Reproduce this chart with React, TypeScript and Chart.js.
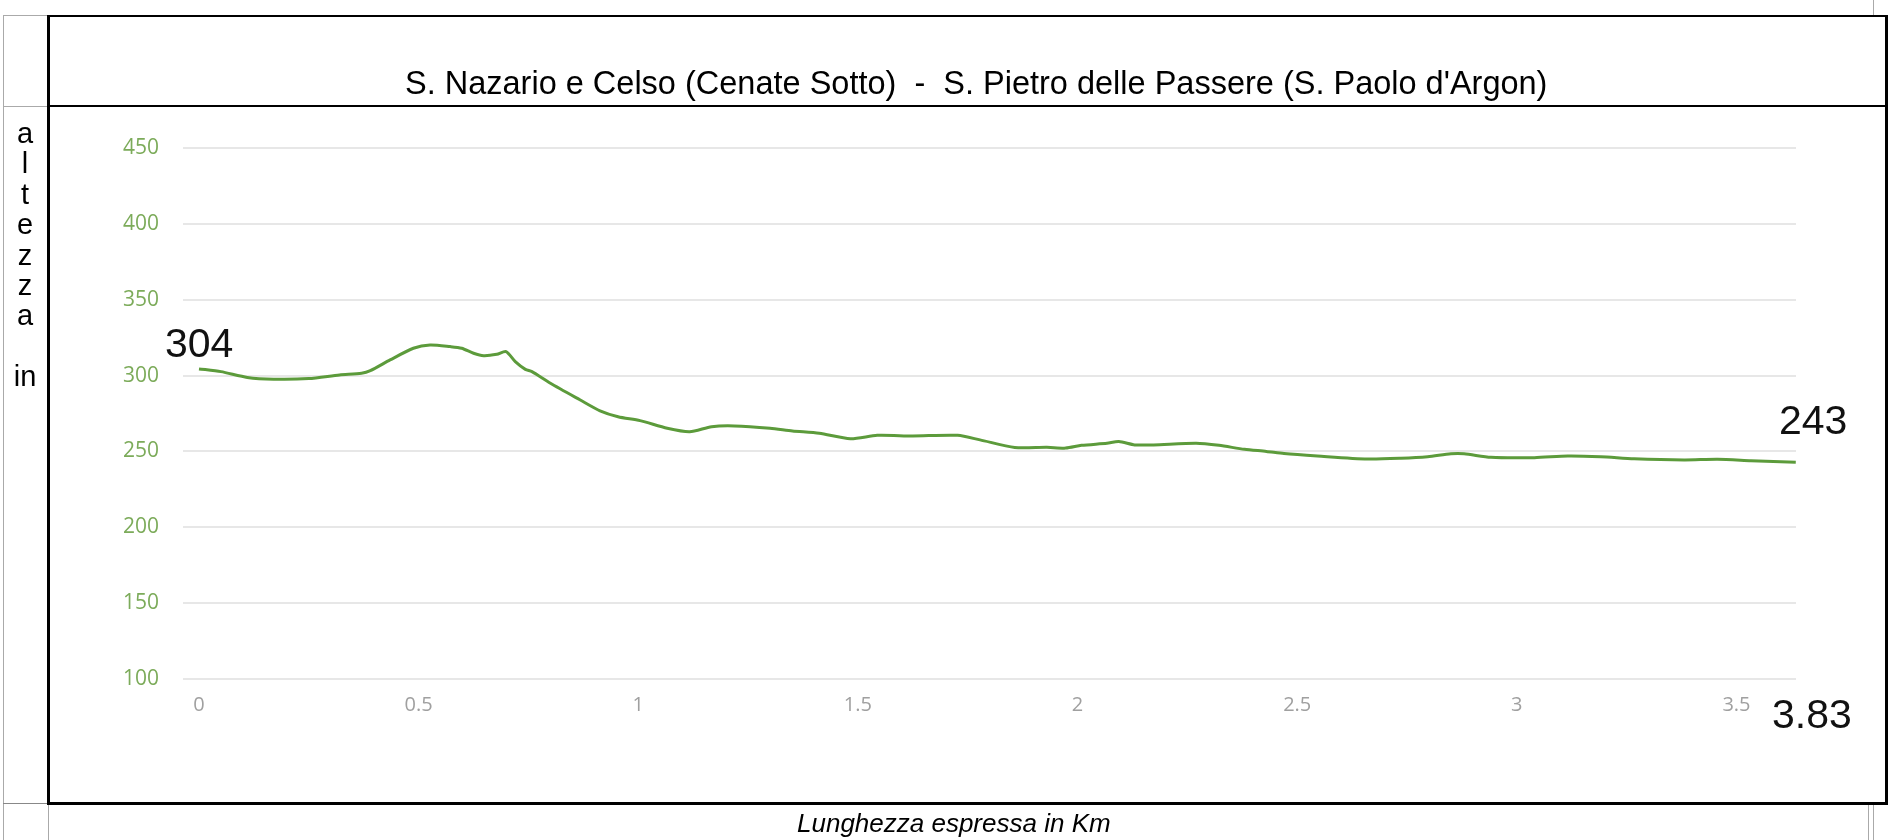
import React, { useEffect, useRef } from 'react';
import { Chart, registerables } from 'chart.js';

Chart.register(...registerables);

// Distance along the route (km) and altitude (m)
const KM = [
  0, 0.05, 0.11, 0.17, 0.25, 0.32, 0.37, 0.39, 0.435, 0.488, 0.526, 0.572, 0.598,
  0.625, 0.648, 0.678, 0.699, 0.72, 0.743, 0.758, 0.8, 0.868, 0.913, 0.954, 1.004,
  1.066, 1.117, 1.167, 1.219, 1.3, 1.351, 1.412, 1.483, 1.544, 1.625, 1.727, 1.778,
  1.857, 1.93, 1.973, 2.009, 2.067, 2.094, 2.13, 2.173, 2.27, 2.322, 2.38, 2.43,
  2.47, 2.546, 2.66, 2.736, 2.797, 2.85, 2.88, 2.941, 3.04, 3.116, 3.191, 3.267,
  3.381, 3.457, 3.533, 3.635,
];
const ALT = [
  304.4, 302.6, 298.8, 297.6, 298, 300.4, 301.5, 303.2, 310.3, 318, 320.2, 319.1, 318,
  314.7, 313.1, 314, 315.8, 309.2, 304.1, 302.6, 294.9, 283.9, 276.8, 272.9, 270.3,
  265.3, 263, 266.3, 266.8, 265.3, 263.5, 262, 258.4, 260.6, 260.2, 260.6, 257.6,
  252.6, 252.7, 252.2, 254, 255.4, 256.5, 254.3, 254.3, 255.4, 254, 251.4, 250,
  248.6, 247, 245, 245.5, 246.5, 248.4, 248.4, 246.1, 245.9, 247, 246.5, 245.2,
  244.4, 244.8, 243.9, 242.8,
];
const X_TICKS = [0, 0.5, 1, 1.5, 2, 2.5, 3, 3.5];
const Y_TICKS = [100, 150, 200, 250, 300, 350, 400, 450];

const TITLE = "S. Nazario e Celso (Cenate Sotto)  -  S. Pietro delle Passere (S. Paolo d'Argon)";
const Y_TITLE_LINES = ['a', 'l', 't', 'e', 'z', 'z', 'a', '', 'in'];
const X_TITLE = 'Lunghezza espressa in Km';
const START_LABEL = '304';
const END_LABEL = '243';
const LENGTH_LABEL = '3.83';

const ARIAL = '"Liberation Sans", Arial, sans-serif';
const TICK_FONT = '"Open Sans", sans-serif';

export default function App() {
  const ref = useRef<HTMLCanvasElement>(null);

  useEffect(() => {
    const canvas = ref.current;
    if (!canvas) return;
    const chart = new Chart(canvas, {
      type: 'line',
      data: {
        datasets: [
          {
            data: KM.map((x, i) => ({ x, y: ALT[i] })),
            borderColor: '#5c9b3b',
            borderWidth: 3,
            pointRadius: 0,
            tension: 0.25,
            fill: false,
          },
        ],
      },
      options: {
        responsive: false,
        devicePixelRatio: 1,
        animation: false,
        layout: { padding: { left: 0, top: 148, right: 100, bottom: 101 } },
        plugins: { legend: { display: false }, tooltip: { enabled: false }, title: { display: false } },
        scales: {
          x: {
            type: 'linear',
            min: -0.0364,
            max: 3.6355,
            grid: { display: false, drawTicks: false },
            border: { display: false },
            afterBuildTicks: (scale: any) => {
              scale.ticks = X_TICKS.map((v) => ({ value: v }));
            },
            afterFit: (scale: any) => {
              scale.height = 60;
            },
            ticks: {
              color: '#a0a0a0',
              padding: 14,
              font: { family: TICK_FONT, size: 20 },
              callback: (v: any) => String(v),
              maxRotation: 0,
              autoSkip: false,
            },
          },
          y: {
            type: 'linear',
            min: 100,
            max: 450,
            grid: { color: '#e7e7e7', lineWidth: 2, drawTicks: false },
            border: { display: false },
            afterBuildTicks: (scale: any) => {
              scale.ticks = Y_TICKS.map((v) => ({ value: v }));
            },
            afterFit: (scale: any) => {
              scale.width = 183;
            },
            ticks: {
              color: '#7cab5a',
              padding: 24,
              font: { family: TICK_FONT, size: 21 },
              callback: (v: any) => String(v),
            },
          },
        },
      },
    });
    return () => chart.destroy();
  }, []);

  const gray = '#aaaaaa';

  return (
    <div
      style={{
        position: 'fixed',
        left: 0,
        top: 0,
        width: 1896,
        height: 840,
        background: '#ffffff',
        overflow: 'hidden',
        fontFamily: ARIAL,
      }}
    >
      {/* thin grey table lines */}
      <div style={{ position: 'absolute', left: 3, top: 15, width: 1, height: 825, background: gray }} />
      <div style={{ position: 'absolute', left: 3, top: 15, width: 46, height: 1, background: gray }} />
      <div style={{ position: 'absolute', left: 3, top: 106, width: 46, height: 1, background: gray }} />
      <div style={{ position: 'absolute', left: 3, top: 803, width: 46, height: 1, background: '#888' }} />
      <div style={{ position: 'absolute', left: 48, top: 803, width: 1, height: 37, background: gray }} />
      <div style={{ position: 'absolute', left: 1873, top: 0, width: 1, height: 16, background: gray }} />
      <div style={{ position: 'absolute', left: 1868, top: 803, width: 1, height: 37, background: gray }} />
      <div style={{ position: 'absolute', left: 1873, top: 803, width: 1, height: 37, background: gray }} />

      {/* black framed box */}
      <div
        style={{
          position: 'absolute',
          left: 47,
          top: 15,
          width: 1888 - 47 - 6,
          height: 805 - 15 - 5,
          borderLeft: '3px solid #000',
          borderRight: '3px solid #000',
          borderTop: '2px solid #000',
          borderBottom: '3px solid #000',
        }}
      />
      <div style={{ position: 'absolute', left: 47, top: 105, width: 1841, height: 2, background: '#000' }} />

      <canvas
        ref={ref}
        width={1896}
        height={840}
        style={{ position: 'absolute', left: 0, top: 0, width: 1896, height: 840 }}
      />

      {/* title */}
      <div
        style={{
          position: 'absolute',
          left: 405,
          top: 67,
          fontSize: 32.5,
          lineHeight: '32.5px',
          whiteSpace: 'pre',
          color: '#000',
        }}
      >
        {TITLE}
      </div>

      {/* vertical y title */}
      <div
        style={{
          position: 'absolute',
          left: 3,
          top: 118,
          width: 44,
          textAlign: 'center',
          fontSize: 29,
          lineHeight: '30.4px',
          color: '#000',
        }}
      >
        {Y_TITLE_LINES.map((t, i) => (
          <div key={i} style={{ height: 30.4 }}>
            {t}
          </div>
        ))}
      </div>

      {/* annotations */}
      <div style={{ position: 'absolute', left: 165, top: 323, fontSize: 41, lineHeight: '41px', color: '#111' }}>
        {START_LABEL}
      </div>
      <div style={{ position: 'absolute', left: 1779, top: 400, fontSize: 41, lineHeight: '41px', color: '#111' }}>
        {END_LABEL}
      </div>
      <div style={{ position: 'absolute', left: 1772, top: 694, fontSize: 41, lineHeight: '41px', color: '#111' }}>
        {LENGTH_LABEL}
      </div>

      {/* x title */}
      <div
        style={{
          position: 'absolute',
          left: 797,
          top: 810,
          fontSize: 26,
          lineHeight: '26px',
          fontStyle: 'italic',
          whiteSpace: 'pre',
          color: '#000',
        }}
      >
        {X_TITLE}
      </div>
    </div>
  );
}
